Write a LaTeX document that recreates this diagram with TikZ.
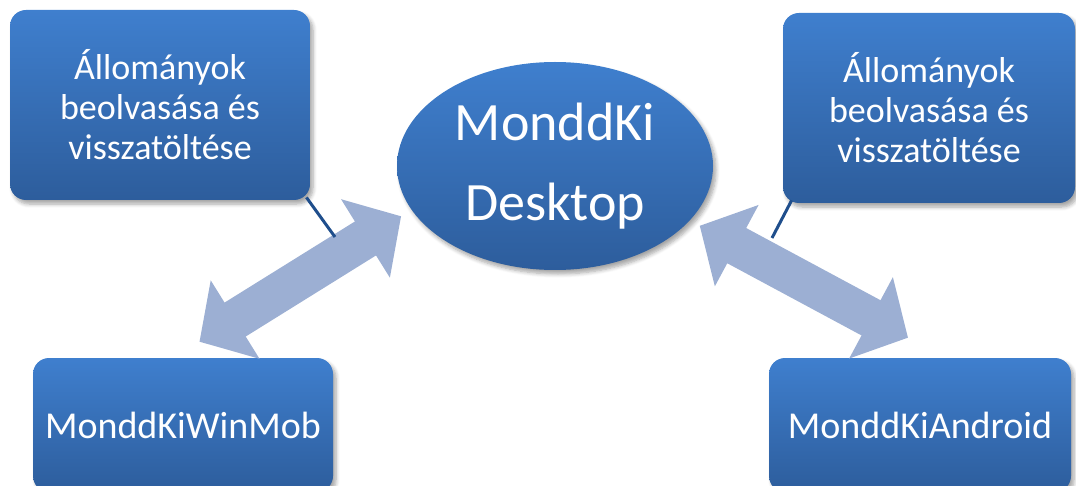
\documentclass[tikz,border=0pt]{standalone}
\usepackage{fontspec}
\setmainfont{Carlito}
\usetikzlibrary{calc,shapes.geometric,arrows.meta,shadows.blur}
\definecolor{boxtop}{HTML}{3F7FCE}
\definecolor{boxbot}{HTML}{2D5D9C}
\definecolor{arrowfill}{HTML}{9CAFD3}
\definecolor{stem}{HTML}{1F4E8C}

\begin{document}
\begin{tikzpicture}[x=0.5pt,y=-0.5pt,
		box/.style={rectangle, rounded corners=8pt, top color=boxtop, bottom color=boxbot,
			draw=none, text=white, align=center, inner sep=0pt,
			blur shadow={shadow xshift=1.5pt, shadow yshift=-2pt, shadow opacity=35, shadow blur steps=6}},
		filebox/.style={box, minimum width=150pt, minimum height=95pt,
			font=\fontsize{18pt}{20pt}\selectfont},
		appbox/.style={box, minimum width=150pt, minimum height=67pt,
			font=\fontsize{19pt}{20pt}\selectfont},
		core/.style={ellipse, top color=boxtop, bottom color=boxbot, draw=none, text=white,
			align=center, inner sep=0pt, minimum width=158pt, minimum height=104pt,
			font=\fontsize{27pt}{40pt}\selectfont,
			blur shadow={shadow xshift=1.5pt, shadow yshift=-2pt, shadow opacity=35, shadow blur steps=6}},
		sync/.style={line width=20pt, draw=arrowfill,
			{Triangle[width=45pt,length=21pt]}-{Triangle[width=45pt,length=21pt]}},
		stemline/.style={draw=stem, line width=1.5pt}
	]
	\useasboundingbox (0,0) rectangle (1076,486);
	% main nodes
	\node[core] (desk) at (555,166) {MonddKi\\Desktop};
	\node[filebox] (filesleft) at (160,105) {Állományok\\beolvasása és\\visszatöltése};
	\node[filebox, minimum width=146pt] (filesright) at (929,108) {Állományok\\beolvasása és\\visszatöltése};
	\node[appbox] (winmob) at (183,425) {MonddKiWinMob};
	\node[appbox, minimum width=151pt] (android) at (920,425) {MonddKiAndroid};
	% big two-way arrows
	\draw[sync, shorten <=6pt, shorten >=15pt] (desk.197) -- ($(winmob.north)+(-9,0)$);
	\draw[sync, shorten <=5.5pt, shorten >=21pt] (desk.338) -- ($(android.north)+(25,0)$);
	% callout stems
	\coordinate (stemleft) at (335,237);
	\coordinate (stemright) at (772,238);
	\draw[stemline] ($(filesleft.south east)+(-4,-3)$) -- (stemleft);
	\draw[stemline] ($(filesright.south west)+(9,-3)$) -- (stemright);
\end{tikzpicture}
\end{document}
